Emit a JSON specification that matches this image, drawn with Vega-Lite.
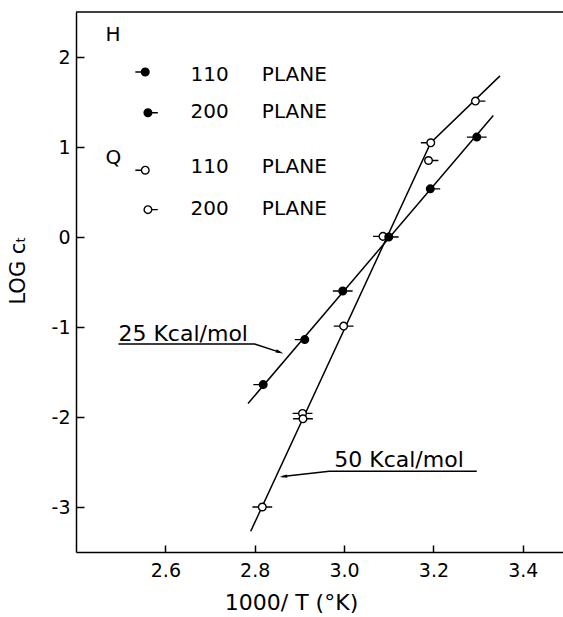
{
  "$schema": "https://vega.github.io/schema/vega-lite/v6.json",
  "width": 487,
  "height": 540,
  "autosize": {"type": "none"},
  "padding": {"left": 76, "top": 12, "right": 0, "bottom": 65},
  "background": "white",
  "config": {
    "view": {"stroke": null},
    "font": "DejaVu Sans",
    "axis": {
      "grid": false,
      "domainColor": "black",
      "domainWidth": 1.5,
      "tickColor": "black",
      "tickWidth": 1.5,
      "labelColor": "black",
      "labelFont": "DejaVu Sans",
      "labelFontSize": 19,
      "titleColor": "black",
      "titleFont": "DejaVu Sans",
      "titleFontWeight": "normal"
    }
  },
  "datasets": {
    "lines": [
      {"g": "H", "o": 1, "x": 2.785, "y": -1.85},
      {"g": "H", "o": 2, "x": 3.334, "y": 1.35},
      {"g": "Q", "o": 1, "x": 2.791, "y": -3.27},
      {"g": "Q", "o": 2, "x": 3.194, "y": 1.047},
      {"g": "Q", "o": 3, "x": 3.349, "y": 1.79},
      {"g": "a25", "o": 1, "x": 2.495, "y": -1.188},
      {"g": "a25", "o": 2, "x": 2.8, "y": -1.19},
      {"g": "a25", "o": 3, "x": 2.857, "y": -1.282},
      {"g": "a50", "o": 1, "x": 3.297, "y": -2.602},
      {"g": "a50", "o": 2, "x": 2.967, "y": -2.602},
      {"g": "a50", "o": 3, "x": 2.862, "y": -2.662}
    ],
    "points": [
      {"x": 3.294, "y": 1.51, "t": "Q", "tail": "R"},
      {"x": 3.194, "y": 1.047, "t": "Q", "tail": "L"},
      {"x": 3.189, "y": 0.85, "t": "Q", "tail": "R"},
      {"x": 3.087, "y": 0.007, "t": "Q", "tail": "L"},
      {"x": 2.999, "y": -0.99, "t": "Q", "tail": "B"},
      {"x": 2.907, "y": -1.96, "t": "Q", "tail": "B"},
      {"x": 2.908, "y": -2.02, "t": "Q", "tail": "B"},
      {"x": 2.817, "y": -3.0, "t": "Q", "tail": "B"},
      {"x": 3.297, "y": 1.11, "t": "H", "tail": "B"},
      {"x": 3.193, "y": 0.535, "t": "H", "tail": "R"},
      {"x": 3.1, "y": 0.0, "t": "H", "tail": "R"},
      {"x": 2.997, "y": -0.6, "t": "H", "tail": "B"},
      {"x": 2.912, "y": -1.14, "t": "H", "tail": "L"},
      {"x": 2.819, "y": -1.64, "t": "H", "tail": "L"},
      {"x": 2.555, "y": 1.833, "t": "H", "tail": "L"},
      {"x": 2.561, "y": 1.381, "t": "H", "tail": "R"},
      {"x": 2.555, "y": 0.742, "t": "Q", "tail": "L"},
      {"x": 2.561, "y": 0.304, "t": "Q", "tail": "R"}
    ],
    "arrows": [
      {"a": "a25", "x": 2.856, "y": -1.281},
      {"a": "a50", "x": 2.864, "y": -2.662}
    ],
    "leftText": [
      {"s": "H", "x": 2.466, "y": 2.244},
      {"s": "Q", "x": 2.466, "y": 0.877},
      {"s": "PLANE", "x": 2.816, "y": 1.796},
      {"s": "PLANE", "x": 2.816, "y": 1.39},
      {"s": "PLANE", "x": 2.816, "y": 0.777},
      {"s": "PLANE", "x": 2.816, "y": 0.31}
    ],
    "rightText": [
      {"s": "110", "x": 2.742, "y": 1.796},
      {"s": "200", "x": 2.742, "y": 1.39},
      {"s": "110", "x": 2.742, "y": 0.777},
      {"s": "200", "x": 2.742, "y": 0.31}
    ],
    "notes": [
      {"s": "25 Kcal/mol", "x": 2.495, "y": -1.155},
      {"s": "50 Kcal/mol", "x": 2.978, "y": -2.558}
    ],
    "frame": [
      {"y": 2.5}
    ]
  },
  "layer": [
    {
      "data": {"name": "lines"},
      "mark": {"type": "line", "color": "black", "strokeWidth": 1.5},
      "encoding": {
        "x": {
          "field": "x", "type": "quantitative",
          "scale": {"domain": [2.4, 3.49], "nice": false, "zero": false},
          "axis": {
            "orient": "bottom",
            "values": [2.6, 2.8, 3.0, 3.2, 3.4],
            "format": ".1f",
            "tickSize": -7,
            "labelPadding": 16,
            "title": "1000/ T  (°K)",
            "titleFontSize": 22,
            "titleX": 215,
            "titleY": 57,
            "titleAlign": "center",
            "titleBaseline": "alphabetic"
          }
        },
        "y": {
          "field": "y", "type": "quantitative",
          "scale": {"domain": [-3.5, 2.5], "nice": false, "zero": false},
          "axis": {
            "orient": "left",
            "values": [-3, -2, -1, 0, 1, 2],
            "labelExpr": "datum.value < 0 ? '-' + abs(datum.value) : '' + datum.value",
            "tickSize": -8,
            "labelPadding": 14,
            "title": "LOG cₜ",
            "titleFontSize": 21,
            "titleAngle": 270,
            "titleX": -58,
            "titleY": 258,
            "titleAlign": "center",
            "titleBaseline": "middle"
          }
        },
        "detail": {"field": "g"},
        "order": {"field": "o"}
      }
    },
    {
      "data": {"name": "frame"},
      "mark": {"type": "rule", "color": "black", "strokeWidth": 1.5},
      "encoding": {
        "y": {"field": "y", "type": "quantitative"}
      }
    },
    {
      "data": {"name": "points"},
      "mark": {"type": "point", "filled": false, "stroke": "black", "strokeWidth": 1.4, "opacity": 1, "size": 58},
      "encoding": {
        "x": {"field": "x", "type": "quantitative"},
        "y": {"field": "y", "type": "quantitative"},
        "fill": {"field": "t", "type": "nominal", "legend": null,
          "scale": {"domain": ["H", "Q"], "range": ["black", "white"]}},
        "shape": {"field": "tail", "type": "nominal", "legend": null,
          "scale": {"domain": ["L", "R", "B"], "range": [
            "M1,0A1,1,0,1,1,-1,0A1,1,0,1,1,1,0Z M-1,0L-2.6,0",
            "M1,0A1,1,0,1,1,-1,0A1,1,0,1,1,1,0Z M1,0L2.6,0",
            "M1,0A1,1,0,1,1,-1,0A1,1,0,1,1,1,0Z M-1,0L-2.6,0 M1,0L2.6,0"
          ]}}
      }
    },
    {
      "data": {"name": "arrows"},
      "transform": [{"filter": "datum.a == 'a25'"}],
      "mark": {"type": "point", "filled": true, "color": "black", "opacity": 1, "size": 60, "angle": 20, "shape": "M1,0L-1,-0.45L-1,0.45Z"},
      "encoding": {
        "x": {"field": "x", "type": "quantitative"},
        "y": {"field": "y", "type": "quantitative"}
      }
    },
    {
      "data": {"name": "arrows"},
      "transform": [{"filter": "datum.a == 'a50'"}],
      "mark": {"type": "point", "filled": true, "color": "black", "opacity": 1, "size": 60, "angle": 173, "shape": "M1,0L-1,-0.45L-1,0.45Z"},
      "encoding": {
        "x": {"field": "x", "type": "quantitative"},
        "y": {"field": "y", "type": "quantitative"}
      }
    },
    {
      "data": {"name": "leftText"},
      "mark": {"type": "text", "align": "left", "baseline": "middle", "fontSize": 20, "font": "DejaVu Sans", "color": "black"},
      "encoding": {
        "x": {"field": "x", "type": "quantitative"},
        "y": {"field": "y", "type": "quantitative"},
        "text": {"field": "s"}
      }
    },
    {
      "data": {"name": "rightText"},
      "mark": {"type": "text", "align": "right", "baseline": "middle", "fontSize": 20, "font": "DejaVu Sans", "color": "black"},
      "encoding": {
        "x": {"field": "x", "type": "quantitative"},
        "y": {"field": "y", "type": "quantitative"},
        "text": {"field": "s"}
      }
    },
    {
      "data": {"name": "notes"},
      "mark": {"type": "text", "align": "left", "baseline": "alphabetic", "fontSize": 22, "font": "DejaVu Sans", "color": "black"},
      "encoding": {
        "x": {"field": "x", "type": "quantitative"},
        "y": {"field": "y", "type": "quantitative"},
        "text": {"field": "s"}
      }
    }
  ]
}
